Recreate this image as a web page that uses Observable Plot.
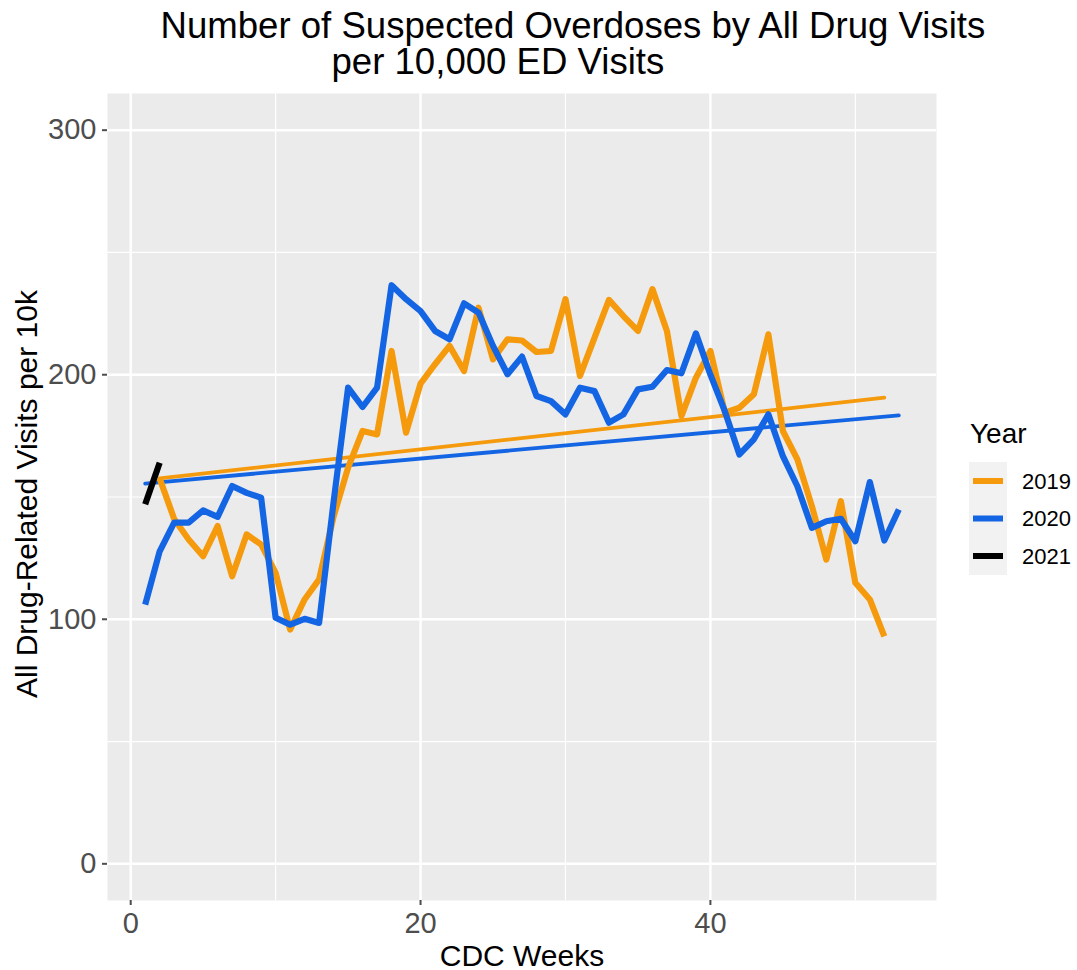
<!DOCTYPE html>
<html>
<head>
<meta charset="utf-8">
<script src="https://cdn.jsdelivr.net/npm/d3@7"></script>
<script src="https://cdn.jsdelivr.net/npm/@observablehq/plot@0.6"></script>
<style>
  html, body { margin: 0; padding: 0; background: #fff; }
  #wrap { position: relative; width: 1077px; height: 970px; font-family: "Liberation Sans", Arial, Helvetica, sans-serif; }
  #legend { position: absolute; left: 0; top: 0; }
</style>
</head>
<body>
<div id="wrap"></div>
<script>
// ---- data ----
const weeks2019 = d3.range(2, 53);
const values2019 = [157.6, 141, 132.6, 125.8, 138.1, 117.6, 134.7, 130.6, 119.0, 95.8,
  108.1, 116.3, 142, 162, 177.0, 175.6, 209.7, 176.3, 196.4, 204.3,
  211.8, 201.5, 227.4, 206.3, 214.5, 214, 209.3, 209.7, 230.9, 199.5,
  215.1, 230.6, 224.0, 217.9, 235.0, 217.9, 183.1, 198.8, 209.7, 184.5,
  186.5, 192.0, 216.5, 177, 165.4, 146.3, 124.4, 148.3, 114.9, 108.1, 93];
const weeks2020 = d3.range(1, 54);
const values2020 = [106, 127.8, 139.5, 139.5, 144.5, 141.9, 154.5, 151.7, 149.7, 100.6,
  97.8, 100.2, 98.5, 148, 194.7, 186.8, 194.7, 236.6, 230.9, 226,
  217.9, 214.5, 229.2, 225.4, 211.8, 200.2, 207.4, 191.3, 189.2, 183.8,
  194.7, 193.3, 180.4, 183.8, 194.0, 195.1, 201.9, 200.6, 216.9, 200,
  185, 167.4, 173.6, 183.8, 166.7, 154.4, 137.4, 140.1, 141.1, 131.9,
  156.1, 132.2, 144.9];
const weeks2021 = [1, 2];
const values2021 = [147, 164];

// linear trend lines (end points)
const trendWeeks2019 = [2, 52];
const trendValues2019 = [157.6, 190.6];
const trendWeeks2020 = [1, 53];
const trendValues2020 = [155.5, 183.4];

const years = ["2019", "2020", "2021"];
const colors = ["#F59A0C", "#1465E3", "#000000"];

const xMajor = [0, 20, 40];
const xMinor = [10, 30, 50];
const yMajor = [0, 100, 200, 300];
const yMinor = [50, 150, 250];

const titleLines = ["Number of Suspected Overdoses by All Drug Visits", "per 10,000 ED Visits"];
const xTitle = "CDC Weeks";
const yTitle = "All Drug-Related Visits per 10k";
const legendTitle = "Year";

// build tables
const rows = [];
weeks2019.forEach((w, i) => rows.push({year: "2019", week: w, value: values2019[i]}));
weeks2020.forEach((w, i) => rows.push({year: "2020", week: w, value: values2020[i]}));
weeks2021.forEach((w, i) => rows.push({year: "2021", week: w, value: values2021[i]}));
const trends = [];
trendWeeks2019.forEach((w, i) => trends.push({year: "2019", week: w, value: trendValues2019[i]}));
trendWeeks2020.forEach((w, i) => trends.push({year: "2020", week: w, value: trendValues2020[i]}));

const font = "Liberation Sans, Arial, Helvetica, sans-serif";
const colorScale = {domain: years, range: colors};

const chart = Plot.plot({
  width: 1077,
  height: 970,
  marginLeft: 107,
  marginRight: 141,
  marginTop: 93,
  marginBottom: 70,
  style: {fontFamily: font, background: "#fff", overflow: "visible"},
  x: {domain: [-1.6, 55.6], label: null},
  y: {domain: [-15, 315], label: null},
  color: colorScale,
  marks: [
    Plot.frame({fill: "#EBEBEB", stroke: null}),
    Plot.ruleX(xMinor, {stroke: "#fff", strokeWidth: 1.2}),
    Plot.ruleY(yMinor, {stroke: "#fff", strokeWidth: 1.2}),
    Plot.ruleX(xMajor, {stroke: "#fff", strokeWidth: 2.4}),
    Plot.ruleY(yMajor, {stroke: "#fff", strokeWidth: 2.4}),
    Plot.axisX(xMajor, {tickSize: 5, tickPadding: 7, fontSize: 29, color: "#4D4D4D", strokeWidth: 2, label: null}),
    Plot.axisY(yMajor, {tickSize: 5, tickPadding: 6, fontSize: 29, color: "#4D4D4D", strokeWidth: 2, label: null}),
    // trend lines
    Plot.line(trends, {x: "week", y: "value", stroke: "year", z: "year", strokeWidth: 3.8}),
    // data lines
    Plot.line(rows, {x: "week", y: "value", stroke: "year", z: "year", strokeWidth: 6.2, strokeLinejoin: "round", strokeLinecap: "butt"}),
    // title
    Plot.text([titleLines[0]], {frameAnchor: "top-left", dx: 53, dy: -56, text: d => d, textAnchor: "start", lineAnchor: "bottom", fontSize: 36.6, fill: "#000"}),
    Plot.text([titleLines[1]], {frameAnchor: "top-left", dx: 224, dy: -20, text: d => d, textAnchor: "start", lineAnchor: "bottom", fontSize: 36.6, fill: "#000"}),
    // axis titles
    Plot.text([xTitle], {frameAnchor: "bottom", dy: 65, text: d => d, lineAnchor: "bottom", fontSize: 30, fill: "#000"}),
    Plot.text([yTitle], {frameAnchor: "left", dx: -80, dy: -3, text: d => d, rotate: -90, textAnchor: "middle", lineAnchor: "middle", fontSize: 30, fill: "#000"})
  ]
});
document.getElementById("wrap").appendChild(chart);

// legend
const lg = d3.select("#wrap").append("svg")
  .attr("id", "legend").attr("width", 1077).attr("height", 970)
  .style("pointer-events", "none")
  .style("font-family", font);
lg.append("text").attr("x", 970).attr("y", 443).attr("font-size", 28).attr("fill", "#000").text(legendTitle);
lg.append("rect").attr("x", 969).attr("y", 462).attr("width", 38).attr("height", 113).attr("fill", "#F2F2F2");
years.forEach((yr, i) => {
  const cy = 481 + i * 37.5;
  lg.append("line").attr("x1", 973).attr("x2", 1003).attr("y1", cy).attr("y2", cy)
    .attr("stroke", colors[i]).attr("stroke-width", 6);
  lg.append("text").attr("x", 1022).attr("y", cy + 7.5).attr("font-size", 22).attr("fill", "#000").text(yr);
});
</script>
</body>
</html>
